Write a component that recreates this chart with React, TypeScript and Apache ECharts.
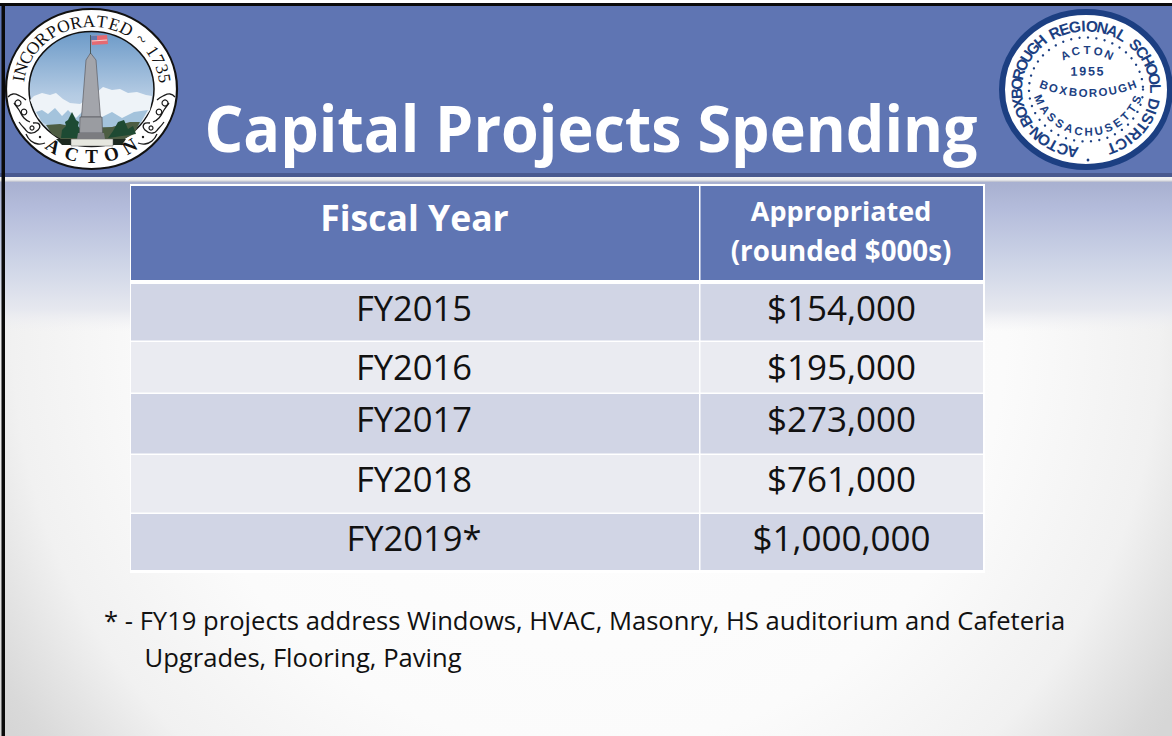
import React, { useEffect, useRef } from "react";
import * as echarts from "echarts";

const title = "Capital Projects Spending";
const headerFiscal = "Fiscal Year";
const headerAppropriated = ["Appropriated", "(rounded $000s)"];
const fiscalYears = ["FY2015", "FY2016", "FY2017", "FY2018", "FY2019*"];
const appropriated = [154000, 195000, 273000, 761000, 1000000];
const footnote = [
  "* - FY19 projects address Windows, HVAC, Masonry, HS auditorium and Cafeteria",
  "Upgrades, Flooring, Paving",
];

const FONT = "'Open Sans', 'Noto Sans', sans-serif";
const BLUE = "#5f75b3";
const NAVY = "#1c3f82";
const rowEdges = [284, 342, 394, 455, 514, 571.5];
const rowCenters = [307, 366, 418, 478, 537];
const TOP = 184;
const LEFT = 130;

const charWeight = (c: string) => {
  if (c === "I" || c === " " || c === "-" || c === "~") return 0.62;
  if (/[0-9]/.test(c)) return 0.82;
  if (c === "M" || c === "W") return 1.25;
  return 1;
};

function arcText(
  text: string,
  cx: number,
  cy: number,
  rx: number,
  ry: number,
  startDeg: number,
  endDeg: number,
  style: any,
  outwardBase = true
) {
  const chars = [...text];
  const weights = chars.map(charWeight);
  const total = weights.reduce((s, w) => s + w, 0) - weights[0] / 2 - weights[weights.length - 1] / 2;
  let run = 0;
  return chars.map((ch, i) => {
    if (i > 0) run += (weights[i - 1] + weights[i]) / 2;
    const deg = startDeg + ((endDeg - startDeg) * run) / total;
    const a = (deg * Math.PI) / 180;
    const rot = outwardBase ? -(a + Math.PI / 2) : -(a - Math.PI / 2);
    return {
      type: "text",
      x: cx + rx * Math.cos(a),
      y: cy + ry * Math.sin(a),
      rotation: rot,
      z: 20,
      style: { text: ch, align: "center", verticalAlign: "middle", ...style },
    };
  });
}

function scroll(mirror: boolean, cx: number) {
  const mx = (x: number) => (mirror ? 2 * cx - x : x);
  const line = (pts: number[][]) => ({
    type: "polyline",
    z: 12,
    shape: { points: pts.map(([x, y]) => [mx(x), y]), smooth: 0.5 },
    style: { stroke: "#1a1a1a", lineWidth: 1.3, fill: "none" },
  });
  const ring = (x: number, y: number, r: number) => ({
    type: "circle",
    z: 12,
    shape: { cx: mx(x), cy: y, r },
    style: { fill: "none", stroke: "#1a1a1a", lineWidth: 1.2 },
  });
  return [
    line([[8, 97], [13, 94], [20, 96], [26, 100]]),
    line([[14, 103], [19, 110], [24, 118], [30, 122]]),
    line([[19, 122], [24, 128], [30, 133], [38, 130], [39, 124], [33, 123]]),
    line([[26, 134], [31, 141], [38, 144], [45, 143]]),
    ring(18, 103, 3),
    ring(24, 112, 2.8),
    ring(32, 128, 2),
    { type: "circle", z: 12, shape: { cx: mx(40), cy: 137, r: 1.2 }, style: { fill: "#111" } },
  ];
}

function actonSeal() {
  const cx = 91.5;
  const cy = 89;
  const serif = { fontFamily: "'Liberation Serif', serif", fill: "#111", fontSize: 17.5 };
  return [
    { type: "ellipse", shape: { cx, cy, rx: 85.5, ry: 80 }, z: 10, style: { fill: "#fff", stroke: "#111", lineWidth: 2.2 } },
    ...scroll(false, cx),
    ...scroll(true, cx),
    {
      type: "ellipse",
      shape: { cx, cy, rx: 62.5, ry: 57.5 },
      z: 13,
      style: {
        fill: {
          type: "linear", x: 0, y: 0, x2: 0, y2: 1,
          colorStops: [
            { offset: 0, color: "#6c9ac8" },
            { offset: 0.55, color: "#b4cbe3" },
            { offset: 1, color: "#d8e4ef" },
          ],
        },
        stroke: "#111",
        lineWidth: 1.5,
      },
    },
    { type: "polygon", z: 14, shape: { points: [[30, 100], [34, 96], [42, 93], [50, 95], [56, 93], [63, 99], [70, 103], [80, 104], [97, 92], [103, 87], [112, 90], [120, 89], [128, 93], [137, 92], [146, 95], [152, 96], [150, 110], [142, 122], [130, 130], [60, 130], [38, 118]] }, style: { fill: "#eef3f8" } },
    { type: "polygon", z: 14, shape: { points: [[36, 112], [42, 110], [48, 114], [55, 108], [62, 116], [68, 110], [76, 118], [82, 112], [100, 118], [112, 112], [122, 118], [134, 112], [148, 110], [140, 124], [128, 132], [60, 132], [42, 122]] }, style: { fill: "#a4c3dc" } },
    { type: "polygon", z: 15, shape: { points: [[46, 125], [60, 124], [80, 128], [112, 127], [130, 122], [140, 122], [134, 134], [116, 143], [68, 143], [52, 134]] }, style: { fill: "#4d5d43" } },
    { type: "polygon", z: 16, shape: { points: [[72, 112], [68, 120], [65, 122], [66, 126], [62, 130], [61, 138], [82, 138], [81, 130], [78, 126], [79, 122], [76, 120]] }, style: { fill: "#1d4a33" } },
    { type: "polygon", z: 16, shape: { points: [[118, 122], [113, 131], [108, 138], [136, 134], [133, 126], [128, 129], [124, 120]] }, style: { fill: "#1f4a33" } },
    { type: "polygon", z: 17, shape: { points: [[56, 139], [126, 139], [122, 145], [62, 145]] }, style: { fill: "#1d2a20" } },
    { type: "rect", z: 18, shape: { x: 71, y: 139, width: 42, height: 7 }, style: { fill: "#e6e7df", stroke: "#555", lineWidth: 0.5 } },
    { type: "polygon", z: 19, shape: { points: [[90.5, 53], [86, 60], [81.5, 117], [100.5, 117], [96, 60]] }, style: { fill: "#a3a5ab", stroke: "#5b5c62", lineWidth: 0.7 } },
    { type: "polygon", z: 19, shape: { points: [[80, 117], [102, 117], [102.5, 133], [79.5, 133]] }, style: { fill: "#9a9ca1", stroke: "#55565c", lineWidth: 0.7 } },
    { type: "polygon", z: 19, shape: { points: [[78, 133], [104, 133], [105, 139], [77, 139]] }, style: { fill: "#7b7c80" } },
    { type: "line", z: 19, shape: { x1: 90.5, y1: 35, x2: 90.5, y2: 54 }, style: { stroke: "#4a5a5c", lineWidth: 1 } },
    { type: "polygon", z: 19, shape: { points: [[91, 36], [107, 35], [108, 44], [92, 45]] }, style: { fill: "#e56a72" } },
    { type: "line", z: 19, shape: { x1: 92, y1: 41, x2: 107, y2: 40 }, style: { stroke: "#f4d5d5", lineWidth: 1.2 } },
    { type: "rect", z: 19, shape: { x: 91, y: 36, width: 6, height: 4 }, style: { fill: "#6479ad" } },
    ...arcText("INCORPORATED ~ 1735", cx, cy, 74, 68, 189, 351, serif),
    ...arcText("ACTON", cx, cy, 72, 67.5, 122, 58, { ...serif, fontSize: 19, fontWeight: "bold" }, false),
  ];
}

function districtSeal() {
  const cx = 1086;
  const cy = 89.5;
  const family = { fontFamily: "'Liberation Sans', sans-serif", fontWeight: "bold", fill: NAVY };
  const big = { ...family, fontSize: 15.5 };
  const small = { ...family, fontSize: 11.5 };
  const dots: any[] = [];
  for (let d = 0; d < 360; d += 8.5) {
    const a = (d * Math.PI) / 180;
    dots.push({ type: "circle", z: 15, shape: { cx: cx + 57 * Math.cos(a), cy: cy + 52 * Math.sin(a), r: 1.2 }, style: { fill: NAVY } });
  }
  return [
    { type: "ellipse", shape: { cx, cy, rx: 84, ry: 77.5 }, z: 10, style: { fill: "#fff", stroke: NAVY, lineWidth: 6 } },
    ...arcText("ACTON-BOXBOROUGH REGIONAL SCHOOL DISTRICT", cx, cy, 69.5, 63.5, 101, 428, big),
    ...dots,
    ...arcText("ACTON", cx + 1, 101, 51, 51, -115.6, -64.4, small),
    ...arcText("1955", 1087, 1071.5, 1000, 1000, -90.75, -89.25, { ...small, fontSize: 12.5 }),
    ...arcText("BOXBOROUGH", 1088, -32, 125, 125, 110.6, 69.4, small, false),
    ...arcText("MASSACHUSETTS", 1088, 79, 52.8, 52.8, 157, 23, small, false),
    { type: "circle", z: 15, shape: { cx: 1088, cy: 160, r: 1.4 }, style: { fill: NAVY } },
  ];
}

function drawCell(text: string, x: number, y: number, size: number, fill: string, weight: string) {
  return {
    type: "text",
    x,
    y,
    style: { text, fontFamily: FONT, fontSize: size, fontWeight: weight, fill, align: "center", verticalAlign: "middle" },
  };
}

export default function App() {
  const ref = useRef<HTMLDivElement>(null);
  useEffect(() => {
    const chart = echarts.init(ref.current!, null, { renderer: "svg" });
    const rows = fiscalYears.map((fy, i) => [i, fy, appropriated[i]]);
    chart.setOption({
      animation: false,
      backgroundColor: "#fff",
      grid: { left: LEFT, top: TOP, width: 854, height: 388 },
      xAxis: { type: "value", min: LEFT, max: LEFT + 854, show: false },
      yAxis: { type: "value", min: TOP, max: TOP + 388, inverse: true, show: false },
      graphic: {
        elements: [
          {
            type: "rect", z: -5, shape: { x: 0, y: 0, width: 1172, height: 736 },
            style: {
              fill: {
                type: "radial", x: 586, y: 330, r: 700, global: true,
                colorStops: [
                  { offset: 0, color: "#ffffff" },
                  { offset: 0.6, color: "#fbfbfb" },
                  { offset: 0.82, color: "#f1f1f1" },
                  { offset: 0.9, color: "#e4e4e4" },
                  { offset: 0.97, color: "#d9d9d9" },
                  { offset: 1, color: "#d6d6d6" },
                ],
              },
            },
          },
          {
            type: "rect", z: -4, shape: { x: 0, y: 182, width: 1172, height: 150 },
            style: {
              fill: {
                type: "linear", x: 0, y: 0, x2: 0, y2: 1,
                colorStops: [
                  { offset: 0, color: "rgba(168,176,208,1)" },
                  { offset: 0.18, color: "rgba(180,188,219,1)" },
                  { offset: 0.52, color: "rgba(204,211,230,1)" },
                  { offset: 0.85, color: "rgba(230,232,239,1)" },
                  { offset: 1, color: "rgba(240,240,243,0)" },
                ],
              },
            },
          },
          {
            type: "rect", z: -4, shape: { x: 0, y: 177, width: 1172, height: 5 },
            style: {
              fill: {
                type: "linear", x: 0, y: 0, x2: 0, y2: 1,
                colorStops: [
                  { offset: 0, color: "#f4f4f4" },
                  { offset: 0.6, color: "#ececec" },
                  { offset: 1, color: "#b4b8ca" },
                ],
              },
            },
          },
          { type: "rect", z: 1, shape: { x: 0, y: 0, width: 1172, height: 174 }, style: { fill: BLUE } },
          { type: "rect", z: 1, shape: { x: 0, y: 173, width: 1172, height: 4 }, style: { fill: "#49598f" } },
          { type: "rect", z: 30, shape: { x: 0, y: 0, width: 1172, height: 3 }, style: { fill: "#ffffff" } },
          { type: "rect", z: 30, shape: { x: 0, y: 3, width: 1172, height: 3 }, style: { fill: "#0a0a0a" } },
          { type: "rect", z: 30, shape: { x: 1.5, y: 3, width: 3.5, height: 733 }, style: { fill: "#0a0a0a" } },
          ...actonSeal(),
          ...districtSeal(),
          {
            type: "text", z: 20, x: 591, y: 127, scaleY: 1.06,
            style: { text: title, fontFamily: FONT, fontWeight: "bold", fontSize: 61, fill: "#fff", align: "center", verticalAlign: "middle" },
          },
          {
            type: "text", z: 20, x: 104, y: 620.5,
            style: { text: footnote[0], fontFamily: FONT, fontSize: 25.6, fill: "#111", verticalAlign: "middle" },
          },
          {
            type: "text", z: 20, x: 144.5, y: 657,
            style: { text: footnote[1], fontFamily: FONT, fontSize: 25.6, fill: "#111", verticalAlign: "middle" },
          },
        ],
      },
      series: [
        {
          type: "custom",
          coordinateSystem: "cartesian2d",
          silent: true,
          clip: false,
          data: rows,
          encode: { x: 0, y: 0 },
          renderItem: (params: any, api: any) => {
            const i = params.dataIndex;
            const [x0, y0] = api.coord([LEFT, rowEdges[i]]);
            const [x1, y1] = api.coord([LEFT + 854, rowEdges[i + 1]]);
            const fill = i % 2 === 0 ? "#d1d5e5" : "#eaebf1";
            const amount = "$" + appropriated[i].toLocaleString("en-US");
            const children: any[] = [
              { type: "rect", shape: { x: x0 + 1, y: y0, width: 568, height: y1 - y0 - 1.5 }, style: { fill } },
              { type: "rect", shape: { x: 700.5, y: y0, width: x1 - 700.5 - 1, height: y1 - y0 - 1.5 }, style: { fill } },
              drawCell(fiscalYears[i], 414, rowCenters[i], 34.5, "#111", "normal"),
              drawCell(amount, 841.5, rowCenters[i], 35, "#111", "normal"),
            ];
            if (i === 0) {
              children.unshift(
                { type: "rect", shape: { x: LEFT, y: TOP, width: 855, height: 389 }, style: { fill: "#fff" } },
                { type: "rect", shape: { x: LEFT + 1, y: TOP + 2, width: 568, height: 94 }, style: { fill: BLUE } },
                { type: "rect", shape: { x: 700.5, y: TOP + 2, width: 282.5, height: 94 }, style: { fill: BLUE } },
                drawCell(headerFiscal, 414.5, 216.5, 35.5, "#fff", "bold"),
                drawCell(headerAppropriated[0], 841, 210, 27, "#fff", "bold"),
                drawCell(headerAppropriated[1], 841, 249.5, 27.7, "#fff", "bold")
              );
            }
            return { type: "group", children };
          },
        },
      ],
    });
    return () => chart.dispose();
  }, []);
  return <div ref={ref} style={{ position: "fixed", left: 0, top: 0, width: 1172, height: 736 }} />;
}
